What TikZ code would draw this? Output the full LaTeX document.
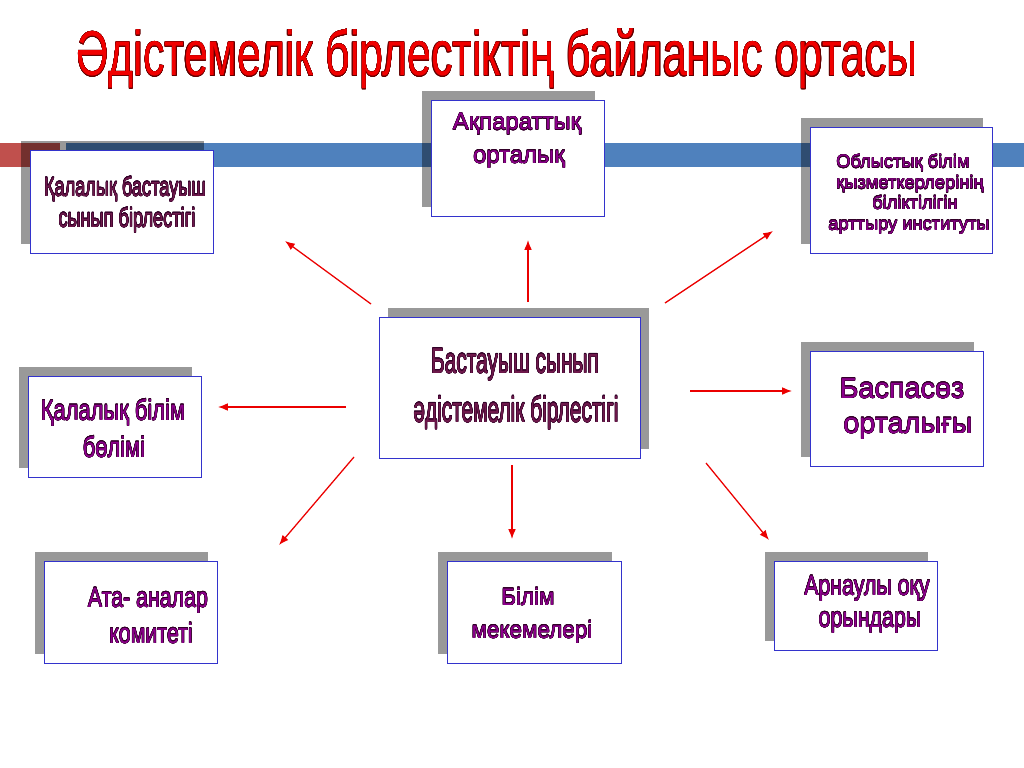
\documentclass[tikz,border=0pt]{standalone}
\usepackage{fontspec}
\setmainfont{Liberation Sans}
\newfontfamily\condfont[FakeStretch=0.68]{Liberation Sans}
\newfontfamily\slimfont[FakeStretch=0.58]{Liberation Sans}
\newfontfamily\narrowfont[FakeStretch=0.76]{Liberation Sans}
\newfontfamily\widefont[FakeStretch=0.94]{Liberation Sans}
\usepackage[copies]{contour}
\contourlength{0.18pt}
\contournumber{16}
\usetikzlibrary{fit,shadows,arrows.meta}

\definecolor{barred}{RGB}{192,80,77}
\definecolor{barblue}{RGB}{79,129,189}
\definecolor{cardedge}{RGB}{51,51,204}
\definecolor{txtfill}{RGB}{140,0,140}
\definecolor{txtdark}{RGB}{110,25,75}
\definecolor{txtedge}{RGB}{50,0,40}
\definecolor{titlered}{RGB}{240,0,0}
\definecolor{titleedge}{RGB}{100,0,0}
\definecolor{arrowred}{RGB}{235,0,0}

\newcommand{\outl}[1]{\contour{txtedge}{#1}}

\tikzset{
  cardbase/.style={draw=cardedge, fill=white, line width=0.7pt, inner sep=0pt},
  card/.style={cardbase,
    drop shadow={shadow xshift=-0.23cm, shadow yshift=0.225cm, fill=black, opacity=0.4}},
  cardr/.style={cardbase,
    drop shadow={shadow xshift=0.23cm, shadow yshift=0.225cm, fill=black, opacity=0.4}},
  txt/.style={anchor=base, inner sep=0pt, text=txtfill},
  link/.style={draw=arrowred, line width=0.9pt, -{Latex[length=7pt,width=5.5pt]}},
}

\begin{document}
\begin{tikzpicture}[x=0.025cm, y=-0.025cm]
  \useasboundingbox (0,0) rectangle (1024,768);

  % polosa
  \fill[barred] (0,143) rectangle (60,167);
  \fill[barblue] (66,143) rectangle (1024,167);

  % title
  \node[txt, text=titlered, font={\condfont\fontsize{45pt}{50pt}\selectfont}] (title) at (497,76)
    {\contour{titleedge}{Әдістемелік бірлестіктің байланыс ортасы}};

  % kartochki
  \node[card, fit={(30,150) (213,253)}] (gorbast) {};
  \node[card, fit={(431,100) (604,216)}] (akparat) {};
  \node[card, fit={(810,127) (992,253)}] (oblys) {};
  \node[cardr, fit={(379,317) (640,458)}] (ortalyk) {};
  \node[card, fit={(28,376) (201,477)}] (gorbilim) {};
  \node[card, fit={(810,351) (983,466)}] (baspasoz) {};
  \node[card, fit={(44,561) (217,663)}] (atana) {};
  \node[card, fit={(447,561) (621,663)}] (bilimmek) {};
  \node[card, fit={(774,561) (937,650)}] (arnauly) {};

  % teksty
  \node[txt, text=txtdark, font={\condfont\fontsize{19pt}{23pt}\selectfont}] (gorbast1) at (125,196) {\outl{Қалалық бастауыш}};
  \node[txt, text=txtdark, font={\condfont\fontsize{19pt}{23pt}\selectfont}] (gorbast2) at (127,227) {\outl{сынып бірлестігі}};

  \node[txt, font={\fontsize{17pt}{20pt}\selectfont}] (akparat1) at (517,130) {\outl{Ақпараттық}};
  \node[txt, font={\fontsize{17pt}{20pt}\selectfont}] (akparat2) at (519,163) {\outl{орталық}};

  \node[txt, font={\fontsize{13pt}{15pt}\selectfont}] (oblys1) at (903,168) {\outl{Облыстық білім}};
  \node[txt, font={\fontsize{13pt}{15pt}\selectfont}] (oblys2) at (910,189) {\outl{қызметкерлерінің}};
  \node[txt, font={\fontsize{13pt}{15pt}\selectfont}] (oblys3) at (915,209) {\outl{біліктілігін}};
  \node[txt, font={\fontsize{13pt}{15pt}\selectfont}] (oblys4) at (909,230) {\outl{арттыру институты}};

  \node[txt, text=txtdark, font={\slimfont\fontsize{25.6pt}{30pt}\selectfont}] (ortalyk1) at (515,373) {\outl{Бастауыш сынып}};
  \node[txt, text=txtdark, font={\slimfont\fontsize{25.6pt}{30pt}\selectfont}] (ortalyk2) at (516,422) {\outl{әдістемелік бірлестігі}};

  \node[txt, font={\narrowfont\fontsize{20.5pt}{24pt}\selectfont}] (gorbilim1) at (113,420) {\outl{Қалалық білім}};
  \node[txt, font={\narrowfont\fontsize{20.5pt}{24pt}\selectfont}] (gorbilim2) at (114,457) {\outl{бөлімі}};

  \node[txt, font={\fontsize{20.5pt}{24pt}\selectfont}] (baspasoz1) at (902,398) {\outl{Баспасөз}};
  \node[txt, font={\fontsize{20.5pt}{24pt}\selectfont}] (baspasoz2) at (908,433) {\outl{орталығы}};

  \node[txt, font={\narrowfont\fontsize{20pt}{24pt}\selectfont}] (atana1) at (148,607) {\outl{Ата- аналар}};
  \node[txt, font={\narrowfont\fontsize{20pt}{24pt}\selectfont}] (atana2) at (151,643) {\outl{комитеті}};

  \node[txt, font={\widefont\fontsize{17pt}{20pt}\selectfont}] (bilimmek1) at (528,605) {\outl{Білім}};
  \node[txt, font={\widefont\fontsize{17pt}{20pt}\selectfont}] (bilimmek2) at (532,638) {\outl{мекемелері}};

  \node[txt, font={\narrowfont\fontsize{20pt}{24pt}\selectfont}] (arnauly1) at (867,595) {\outl{Арнаулы оқу}};
  \node[txt, font={\narrowfont\fontsize{20pt}{24pt}\selectfont}] (arnauly2) at (870,627) {\outl{орындары}};

  % strelki
  \coordinate (ul0) at (371,304); \coordinate (ul1) at (285,241);
  \coordinate (u0) at (528,302);  \coordinate (u1) at (528,240);
  \coordinate (ur0) at (665,303); \coordinate (ur1) at (773,231);
  \coordinate (l0) at (346,407);  \coordinate (l1) at (218,407);
  \coordinate (r0) at (690,391);  \coordinate (r1) at (792,391);
  \coordinate (dl0) at (354,457); \coordinate (dl1) at (279,545);
  \coordinate (d0) at (512,465);  \coordinate (d1) at (512,539);
  \coordinate (dr0) at (706,463); \coordinate (dr1) at (769,540);

  \draw[link] (ul0) -- (ul1);
  \draw[link] (u0) -- (u1);
  \draw[link] (ur0) -- (ur1);
  \draw[link] (l0) -- (l1);
  \draw[link] (r0) -- (r1);
  \draw[link] (dl0) -- (dl1);
  \draw[link] (d0) -- (d1);
  \draw[link] (dr0) -- (dr1);
\end{tikzpicture}
\end{document}
